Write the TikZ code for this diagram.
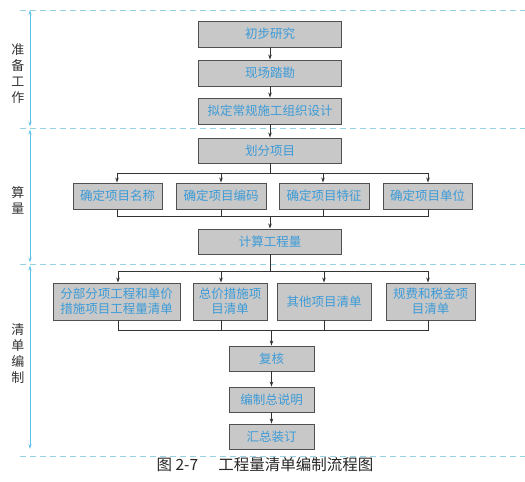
\documentclass[tikz,border=0pt]{standalone}
\usepackage{fontspec}
\usetikzlibrary{arrows.meta}
\newfontfamily\cjk{Noto Sans CJK SC}
\definecolor{boxfill}{HTML}{C8C8C8}
\definecolor{boxline}{HTML}{505050}
\definecolor{txtblue}{HTML}{3C9BD8}
\definecolor{dashblue}{HTML}{95D2E4}
\definecolor{axisblue}{HTML}{5CC0EA}
\tikzset{
  box/.style={draw=boxline, line width=0.9pt, fill=boxfill, text=txtblue, inner sep=0pt,
    font=\cjk\fontsize{12.5}{15}\selectfont, align=center, minimum height=26pt},
  link/.style={draw=black!80, line width=0.8pt},
  arr/.style={link, -{Stealth[length=5pt,width=3.5pt]}},
  sep/.style={draw=dashblue, line width=0.8pt, dash pattern=on 6pt off 4pt},
  axis/.style={draw=axisblue, line width=0.8pt, {Stealth[length=5pt,width=3pt]}-{Stealth[length=5pt,width=3pt]}},
  side/.style={font=\cjk\fontsize{13}{16}\selectfont, text=black!80, align=center},
}
\begin{document}
\begin{tikzpicture}[x=1pt,y=-1pt]
\useasboundingbox (0,0) rectangle (525,482);
% separators
\coordinate (d1l) at (20,10);  \coordinate (d1r) at (525,10);
\coordinate (d2l) at (20,128); \coordinate (d2r) at (525,128);
\coordinate (d3l) at (20,264); \coordinate (d3r) at (525,264);
\coordinate (d4l) at (20,456); \coordinate (d4r) at (525,456);
\draw[sep] (d1l) -- (d1r);
\draw[sep] (d2l) -- (d2r);
\draw[sep] (d3l) -- (d3r);
\draw[sep] (d4l) -- (d4r);
% axis
\coordinate (a1) at (30,10);
\coordinate (a2) at (30,128);
\coordinate (a3) at (30,264);
\coordinate (a4) at (30,449);
\draw[axis, shorten >=1.5pt] (a1) -- (a2);
\draw[axis, shorten <=1.5pt, shorten >=1.5pt] (a2) -- (a3);
\draw[axis, shorten <=1.5pt] (a3) -- (a4);
% side labels
\node[side] (l1) at (18,74) {准\\备\\工\\作};
\node[side] (l2) at (18,200) {算\\量};
\node[side] (l3) at (18,354) {清\\单\\编\\制};
% main column
\node[box, minimum width=143pt] (n1) at (270,34) {初步研究};
\node[box, minimum width=143pt] (n2) at (270,73) {现场踏勘};
\node[box, minimum width=143pt] (n3) at (270,111) {拟定常规施工组织设计};
\node[box, minimum width=143pt, minimum height=25pt] (n4) at (270,150.5) {划分项目};
\node[box, minimum width=89pt] (r1) at (117.5,196) {确定项目名称};
\node[box, minimum width=90pt] (r2) at (221,196) {确定项目编码};
\node[box, minimum width=90pt] (r3) at (324,196) {确定项目特征};
\node[box, minimum width=89pt] (r4) at (427.5,196) {确定项目单位};
\node[box, minimum width=143pt, minimum height=25pt] (n5) at (270,241.5) {计算工程量};
\node[box, minimum width=127pt, minimum height=37pt] (s1) at (116.5,301.5) {分部分项工程和单价\\措施项目工程量清单};
\node[box, minimum width=74pt, minimum height=37pt] (s2) at (230,301.5) {总价措施项\\目清单};
\node[box, minimum width=94pt, minimum height=37pt] (s3) at (324,301.5) {其他项目清单};
\node[box, minimum width=89pt, minimum height=37pt] (s4) at (430.5,301.5) {规费和税金项\\目清单};
\node[box, minimum width=85pt, minimum height=25pt] (n6) at (271.5,358.5) {复核};
\node[box, minimum width=85pt, minimum height=25pt] (n7) at (271.5,399.5) {编制总说明};
\node[box, minimum width=85pt, minimum height=25pt] (n8) at (271.5,436.5) {汇总装订};
% caption
\node[font=\cjk\fontsize{15.5}{17}\selectfont, text=black!85] (cap) at (265,465) {图 2-7\hspace{1.3em}工程量清单编制流程图};
% simple arrows
\draw[arr] (n1) -- (n2);
\draw[arr] (n2) -- (n3);
\draw[arr] (n3) -- (n4);
\draw[arr] (n6) -- (n7);
\draw[arr] (n7) -- (n8);
% fork 1
\coordinate (f1) at (270,173);
\coordinate (f1a) at (117,173);
\coordinate (f1b) at (221,173);
\coordinate (f1c) at (323,173);
\coordinate (f1d) at (428,173);
\draw[link] (n4.south) -- (f1);
\draw[link] (f1a) -- (f1d);
\draw[arr] (f1a) -- (f1a |- r1.north);
\draw[arr] (f1b) -- (f1b |- r2.north);
\draw[arr] (f1c) -- (f1c |- r3.north);
\draw[arr] (f1d) -- (f1d |- r4.north);
% join 1
\coordinate (j1) at (270,216);
\coordinate (j1a) at (117,216);
\coordinate (j1b) at (221,216);
\coordinate (j1c) at (323,216);
\coordinate (j1d) at (428,216);
\draw[link] (j1a |- r1.south) -- (j1a) -- (j1d) -- (j1d |- r4.south);
\draw[link] (j1b |- r2.south) -- (j1b);
\draw[link] (j1c |- r3.south) -- (j1c);
\draw[arr] (j1) -- (n5.north);
% fork 2
\coordinate (f2) at (270,271);
\coordinate (f2a) at (118,271);
\coordinate (f2b) at (221,271);
\coordinate (f2c) at (324,271);
\coordinate (f2d) at (428,271);
\draw[link] (n5.south) -- (f2);
\draw[link] (f2a) -- (f2d);
\draw[arr] (f2a) -- (f2a |- s1.north);
\draw[arr] (f2b) -- (f2b |- s2.north);
\draw[arr] (f2c) -- (f2c |- s3.north);
\draw[arr] (f2d) -- (f2d |- s4.north);
% join 2
\coordinate (j2) at (271.5,330);
\coordinate (j2a) at (118,330);
\coordinate (j2b) at (221,330);
\coordinate (j2c) at (324,330);
\coordinate (j2d) at (428,330);
\draw[link] (j2a |- s1.south) -- (j2a) -- (j2d) -- (j2d |- s4.south);
\draw[link] (j2b |- s2.south) -- (j2b);
\draw[link] (j2c |- s3.south) -- (j2c);
\draw[arr] (j2) -- (n6.north);
\end{tikzpicture}
\end{document}
